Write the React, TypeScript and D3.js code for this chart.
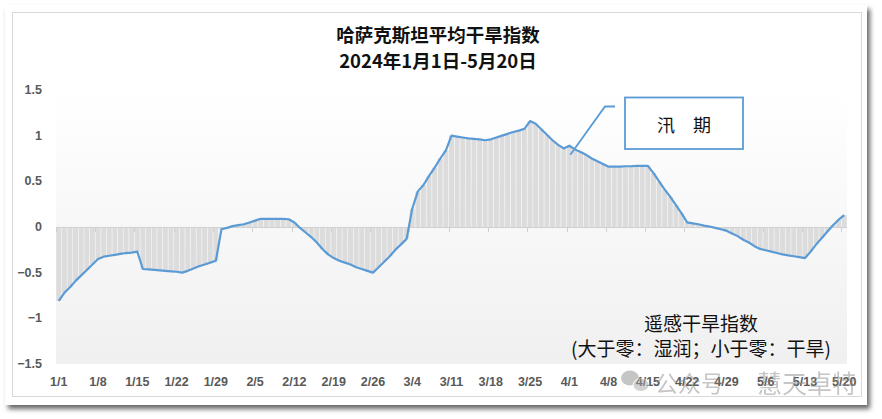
import React from "react";
import * as d3 from "d3";

// Daily drought index, 2024-01-01 .. 2024-05-20 (141 days)
const startDate = new Date(2024, 0, 1);
const droughtIndex: number[] = [
  // Jan 1 - Jan 7
  -0.81, -0.72, -0.66, -0.59, -0.53, -0.47, -0.41,
  // Jan 8 - Jan 14
  -0.35, -0.325, -0.315, -0.305, -0.295, -0.285, -0.28,
  // Jan 15 - Jan 21
  -0.27, -0.46, -0.465, -0.47, -0.475, -0.48, -0.485,
  // Jan 22 - Jan 28
  -0.49, -0.5, -0.48, -0.455, -0.43, -0.41, -0.39,
  // Jan 29 - Feb 4
  -0.37, -0.025, -0.01, 0.01, 0.02, 0.03, 0.05,
  // Feb 5 - Feb 11
  0.07, 0.09, 0.09, 0.09, 0.09, 0.09, 0.085,
  // Feb 12 - Feb 18
  0.05, -0.01, -0.06, -0.11, -0.17, -0.24, -0.3,
  // Feb 19 - Feb 25
  -0.34, -0.37, -0.39, -0.41, -0.44, -0.46, -0.48,
  // Feb 26 - Mar 3
  -0.5, -0.44, -0.38, -0.32, -0.25, -0.19, -0.13,
  // Mar 4 - Mar 10
  0.2, 0.39, 0.46, 0.56, 0.65, 0.75, 0.84,
  // Mar 11 - Mar 17
  1.0, 0.99, 0.98, 0.97, 0.965, 0.96, 0.95,
  // Mar 18 - Mar 24
  0.96, 0.98, 1.0, 1.02, 1.04, 1.055, 1.075,
  // Mar 25 - Mar 31
  1.16, 1.13, 1.07, 1.01, 0.95, 0.9, 0.86,
  // Apr 1 - Apr 7
  0.89, 0.85, 0.82, 0.79, 0.75, 0.72, 0.69,
  // Apr 8 - Apr 14
  0.66, 0.66, 0.66, 0.665, 0.665, 0.67, 0.67,
  // Apr 15 - Apr 21
  0.67, 0.59, 0.5, 0.41, 0.33, 0.24, 0.15,
  // Apr 22 - Apr 28
  0.05, 0.04, 0.03, 0.015, 0.005, -0.01, -0.025,
  // Apr 29 - May 5
  -0.04, -0.07, -0.1, -0.14, -0.17, -0.21, -0.24,
  // May 6 - May 12
  -0.255, -0.27, -0.285, -0.3, -0.31, -0.32, -0.33,
  // May 13 - May 19
  -0.34, -0.27, -0.19, -0.12, -0.05, 0.02, 0.08,
  // May 20
  0.13,
];

const yTicks = [1.5, 1, 0.5, 0, -0.5, -1, -1.5];
const titleLines = ["哈萨克斯坦平均干旱指数", "2024年1月1日-5月20日"];
const noteLines = ["遥感干旱指数", "(大于零：湿润；小于零：干旱)"];
const calloutLabel = "汛　期";
const calloutDay = 91; // Apr 1
const watermark = ["公众号", "慧天卓特"];

const W = 882;
const H = 419;
const plot = { left: 56, right: 847, top: 90, bottom: 364 };

const numFont = "'Liberation Sans', Arial, sans-serif";
const cjkFont = "'Noto Sans CJK SC', 'Noto Sans', sans-serif";

export default function App() {
  const days = droughtIndex.map((_, i) => i);
  const x = d3
    .scaleBand<number>()
    .domain(days)
    .range([plot.left, plot.right])
    .paddingInner(0.12)
    .paddingOuter(0.05);
  const step = x.step();
  const cx = (d: number) => (x(d) as number) + x.bandwidth() / 2;
  const y = d3.scaleLinear().domain([-1.5, 1.5]).range([plot.bottom, plot.top]);

  const fmt = d3.timeFormat("%-m/%-d");
  const weekDays = days.filter((d) => d % 7 === 0);

  const line = d3
    .line<number>()
    .x((_, i) => cx(i))
    .y((v) => y(v));

  const y0 = y(0);
  const cAnchorX = cx(calloutDay) + 1;
  const cAnchorY = y(droughtIndex[calloutDay]) + 9;

  return (
    <svg
      width={W}
      height={H}
      style={{ position: "absolute", left: 0, top: 0, display: "block" }}
    >
      <defs>
        <filter id="cardShadow" x="-5%" y="-5%" width="110%" height="115%">
          <feDropShadow dx="3" dy="4" stdDeviation="2.5" floodColor="#000" floodOpacity="0.6" />
        </filter>
        <linearGradient id="plotBg" x1="0" y1="0" x2="0" y2="1">
          <stop offset="0" stopColor="#ffffff" />
          <stop offset="1" stopColor="#f0f0f0" />
        </linearGradient>
      </defs>

      <rect x={0} y={0} width={W} height={H} fill="#fff" />
      {/* card */}
      <rect x={5} y={5} width={862} height={400} fill="#fff" filter="url(#cardShadow)" />
      <rect x={12.5} y={12.5} width={849} height={384} fill="#fff" stroke="#d9d9d9" strokeWidth={1} />

      {/* plot background */}
      <rect
        x={plot.left}
        y={plot.top}
        width={plot.right - plot.left}
        height={plot.bottom - plot.top}
        fill="url(#plotBg)"
      />

      {/* title */}
      {titleLines.map((t, i) => (
        <text
          key={t}
          x={438}
          y={34 + i * 26}
          textAnchor="middle"
          dominantBaseline="central"
          fontFamily={cjkFont}
          fontWeight={700}
          fontSize={18.5}
          fill="#111"
        >
          {t}
        </text>
      ))}

      {/* daily bars */}
      {droughtIndex.map((v, i) => (
        <rect
          key={i}
          x={x(i)}
          width={x.bandwidth()}
          y={Math.min(y(v), y0)}
          height={Math.abs(y(v) - y0)}
          fill="#dcdcdc"
        />
      ))}

      {/* zero axis with weekly ticks */}
      <line x1={plot.left} x2={plot.right} y1={y0 + 0.5} y2={y0 + 0.5} stroke="#d0d0d0" strokeWidth={1} />
      {weekDays.map((d) => {
        const tx = Math.round((x(d) as number) - (step - x.bandwidth()) / 2) + 0.5;
        return <line key={d} x1={tx} x2={tx} y1={y0} y2={y0 + 5} stroke="#d0d0d0" strokeWidth={1} />;
      })}

      {/* index line */}
      <path
        d={line(droughtIndex) || ""}
        fill="none"
        stroke="#5b9bd5"
        strokeWidth={2.2}
        strokeLinejoin="round"
      />

      {/* y axis labels */}
      {yTicks.map((t) => (
        <text
          key={t}
          x={42}
          y={y(t)}
          textAnchor="end"
          dominantBaseline="central"
          fontFamily={numFont}
          fontWeight={700}
          fontSize={12.5}
          fill="#595959"
        >
          {d3.format("")(t)}
        </text>
      ))}

      {/* x axis labels */}
      {weekDays.map((d) => (
        <text
          key={d}
          x={cx(d)}
          y={382}
          textAnchor="middle"
          dominantBaseline="central"
          fontFamily={numFont}
          fontWeight={700}
          fontSize={12.5}
          fill="#595959"
        >
          {fmt(d3.timeDay.offset(startDate, d))}
        </text>
      ))}

      {/* flood-season callout */}
      <polyline
        points={`${cAnchorX},${cAnchorY} ${605},${106.5} ${615},${106.5}`}
        fill="none"
        stroke="#5b9bd5"
        strokeWidth={1.8}
      />
      <rect x={625} y={97.5} width={118} height={51.5} fill="#fff" stroke="#5b9bd5" strokeWidth={1.8} />
      <text
        x={684}
        y={123.5}
        textAnchor="middle"
        dominantBaseline="central"
        fontFamily={cjkFont}
        fontSize={18}
        fill="#111"
      >
        {calloutLabel}
      </text>

      {/* index note */}
      {noteLines.map((t, i) => (
        <text
          key={t}
          x={701}
          y={322 + i * 25}
          textAnchor="middle"
          dominantBaseline="central"
          fontFamily={cjkFont}
          fontSize={19}
          fill="#111"
        >
          {t}
        </text>
      ))}

      {/* watermark */}
      <g opacity={0.5}>
        <ellipse cx={630} cy={378} rx={9} ry={7.5} fill="#8c8c8c" />
        <ellipse cx={641} cy={385} rx={8} ry={6.5} fill="#a6a6a6" stroke="#fff" strokeWidth={1} />
        <text x={655} y={382} dominantBaseline="central" fontFamily={cjkFont} fontSize={23} fill="#8c8c8c">
          {watermark[0]}
        </text>
        <text x={757} y={382} dominantBaseline="central" fontFamily={cjkFont} fontSize={25} fill="#8c8c8c">
          {watermark[1]}
        </text>
      </g>
    </svg>
  );
}
